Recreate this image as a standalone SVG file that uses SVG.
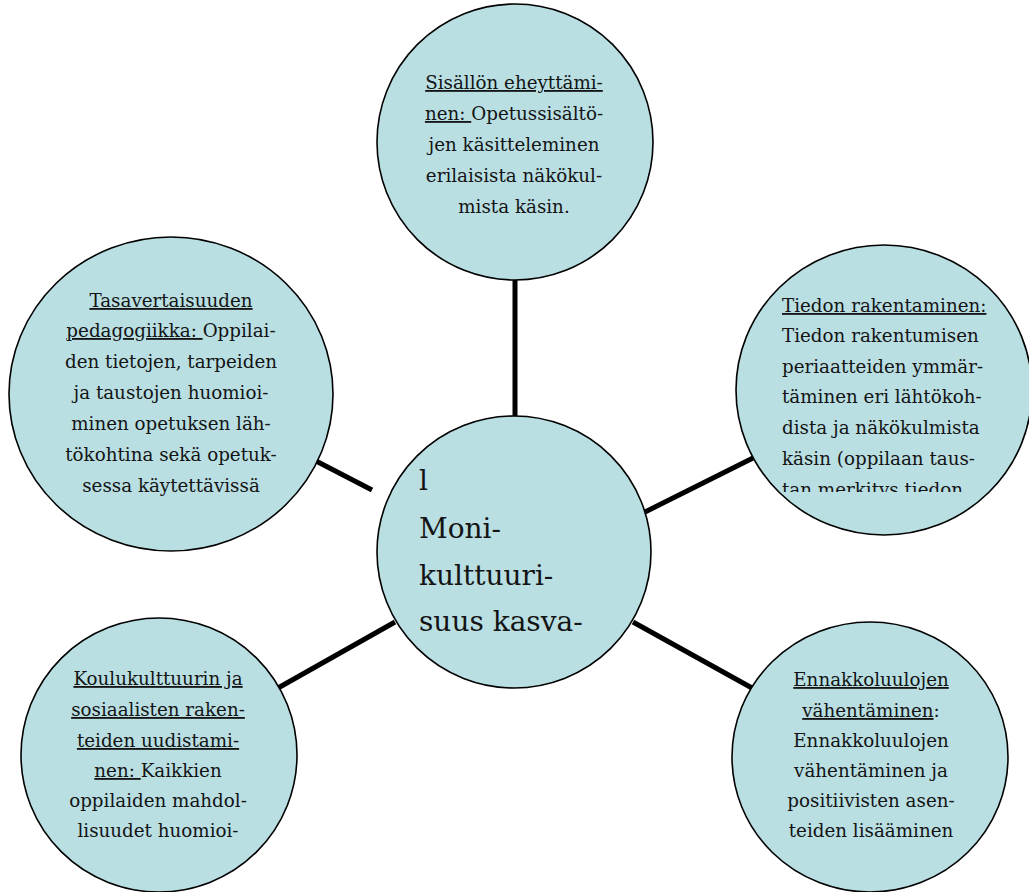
<svg xmlns="http://www.w3.org/2000/svg" width="1029" height="892" viewBox="0 0 1029 892">
<style>
.node{fill:#b9dfe3;stroke:#000;stroke-width:1.6}
.conn{stroke:#000;stroke-width:5;fill:none}
.t{font-family:"DejaVu Serif","Liberation Serif",serif;font-size:18.3px;fill:#141414}
.c{text-anchor:middle}
.big{font-family:"DejaVu Serif","Liberation Serif",serif;font-size:28px;fill:#141414}
.u{text-decoration:underline}
</style>
<defs>
<clipPath id="clipR"><rect x="720" y="240" width="320" height="252"/></clipPath>
</defs>
<g id="connectors">
<line class="conn" x1="515" y1="278" x2="515" y2="419"/>
<line class="conn" x1="316" y1="461" x2="372" y2="490"/>
<line class="conn" x1="645" y1="512" x2="753" y2="458"/>
<line class="conn" x1="633" y1="622" x2="752" y2="688"/>
<line class="conn" x1="278" y1="688" x2="395" y2="622"/>
</g>
<g id="node-top">
<ellipse class="node" cx="515" cy="142" rx="138" ry="138"/>
<text class="t c" x="514" y="89"><tspan class="u">Sisällön eheyttämi-</tspan></text>
<text class="t c" x="514" y="120"><tspan class="u">nen: </tspan>Opetussisältö-</text>
<text class="t c" x="514" y="151">jen käsitteleminen</text>
<text class="t c" x="514" y="182">erilaisista näkökul-</text>
<text class="t c" x="514" y="213">mista käsin.</text>
</g>
<g id="node-left">
<ellipse class="node" cx="171" cy="394" rx="162" ry="157"/>
<text class="t c" x="171" y="307"><tspan class="u">Tasavertaisuuden</tspan></text>
<text class="t c" x="171" y="337"><tspan class="u">pedagogiikka: </tspan>Oppilai-</text>
<text class="t c" x="171" y="368">den tietojen, tarpeiden</text>
<text class="t c" x="171" y="399">ja taustojen huomioi-</text>
<text class="t c" x="171" y="430">minen opetuksen läh-</text>
<text class="t c" x="171" y="461">tökohtina sekä opetuk-</text>
<text class="t c" x="171" y="492">sessa käytettävissä</text>
</g>
<g id="node-right">
<ellipse class="node" cx="884" cy="390" rx="148" ry="145"/>
<text class="t" x="782" y="312"><tspan class="u">Tiedon rakentaminen:</tspan></text>
<text class="t" x="782" y="342">Tiedon rakentumisen</text>
<text class="t" x="782" y="373">periaatteiden ymmär-</text>
<text class="t" x="782" y="403">täminen eri lähtökoh-</text>
<text class="t" x="782" y="434">dista ja näkökulmista</text>
<text class="t" x="782" y="465">käsin (oppilaan taus-</text>
<text class="t" x="782" y="496" clip-path="url(#clipR)">tan merkitys tiedon</text>
</g>
<g id="node-center">
<ellipse class="node" cx="514" cy="552" rx="137" ry="136"/>
<text class="big" x="419" y="490">l</text>
<text class="big" x="419" y="538">Moni-</text>
<text class="big" x="419" y="585">kulttuuri-</text>
<text class="big" x="419" y="631">suus kasva-</text>
</g>
<g id="node-bottom-left">
<ellipse class="node" cx="159" cy="755" rx="138" ry="137"/>
<text class="t c" x="158" y="685"><tspan class="u">Koulukulttuurin ja</tspan></text>
<text class="t c" x="158" y="716"><tspan class="u">sosiaalisten raken-</tspan></text>
<text class="t c" x="158" y="747"><tspan class="u">teiden uudistami-</tspan></text>
<text class="t c" x="158" y="777"><tspan class="u">nen: </tspan>Kaikkien</text>
<text class="t c" x="158" y="807">oppilaiden mahdol-</text>
<text class="t c" x="158" y="837">lisuudet huomioi-</text>
</g>
<g id="node-bottom-right">
<ellipse class="node" cx="870" cy="757" rx="138" ry="135"/>
<text class="t c" x="871" y="686"><tspan class="u">Ennakkoluulojen</tspan></text>
<text class="t c" x="871" y="717"><tspan class="u">vähentäminen</tspan>:</text>
<text class="t c" x="871" y="747">Ennakkoluulojen</text>
<text class="t c" x="871" y="777">vähentäminen ja</text>
<text class="t c" x="871" y="807">positiivisten asen-</text>
<text class="t c" x="871" y="837">teiden lisääminen</text>
</g>
</svg>
